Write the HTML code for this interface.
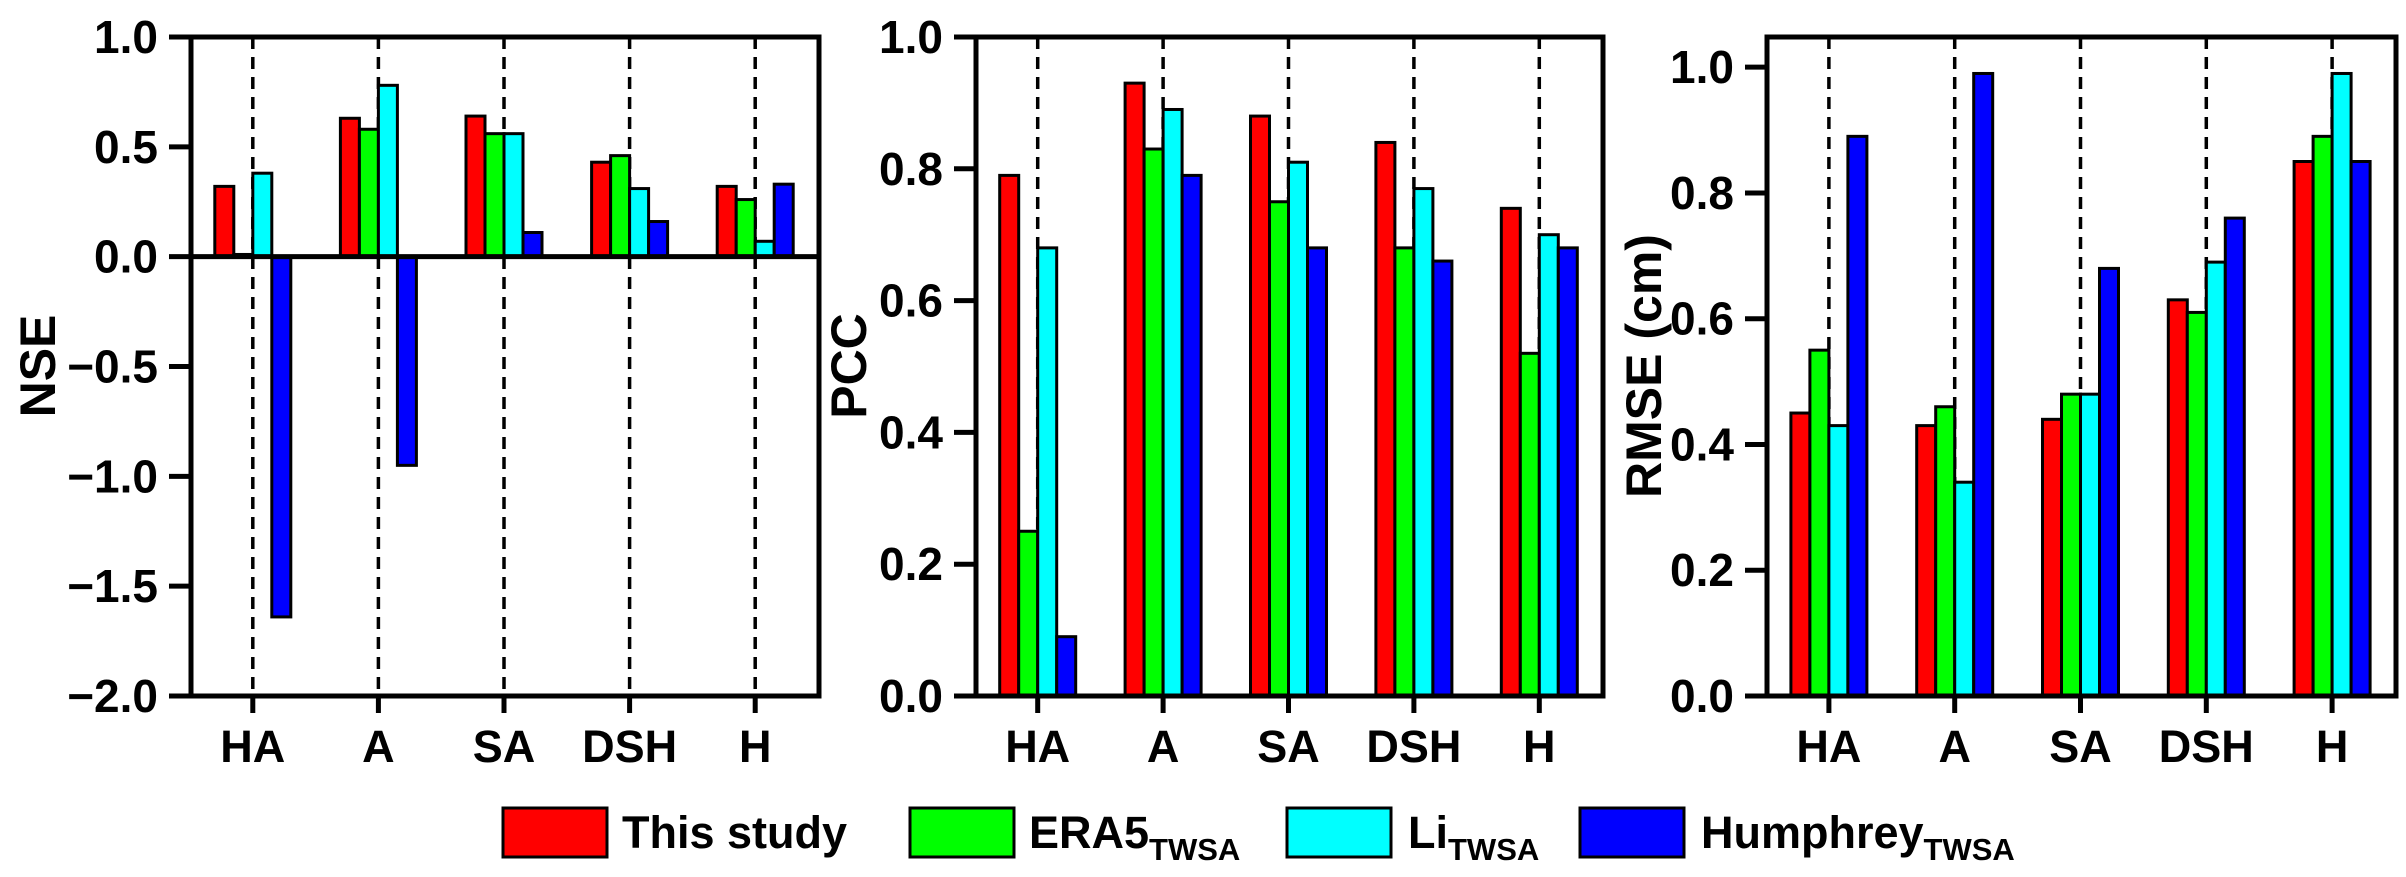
<!DOCTYPE html>
<html><head><meta charset="utf-8"><style>
html,body{margin:0;padding:0;background:#fff;}
svg{display:block;font-family:"Liberation Sans",Arial,sans-serif;font-weight:bold;}
</style></head><body>
<svg id="chart" width="2406" height="877" viewBox="0 0 2406 877" xmlns="http://www.w3.org/2000/svg"></svg>
<script>
const categories = ["HA","A","SA","DSH","H"];
const seriesNames = ["This study","ERA5","Li","Humphrey"];
const colors = ["#ff0000","#00ff00","#00ffff","#0000ff"];
const nseValues = [[0.32,0.63,0.64,0.43,0.32],[0.01,0.58,0.56,0.46,0.26],[0.38,0.78,0.56,0.31,0.07],[-1.64,-0.95,0.11,0.16,0.33]];
const pccValues = [[0.79,0.93,0.88,0.84,0.74],[0.25,0.83,0.75,0.68,0.52],[0.68,0.89,0.81,0.77,0.70],[0.09,0.79,0.68,0.66,0.68]];
const rmseValues = [[0.45,0.43,0.44,0.63,0.85],[0.55,0.46,0.48,0.61,0.89],[0.43,0.34,0.48,0.69,0.99],[0.89,0.99,0.68,0.76,0.85]];
const nseTicks = [1.0,0.5,0.0,-0.5,-1.0,-1.5,-2.0];
const pccTicks = [0.0,0.2,0.4,0.6,0.8,1.0];
const rmseTicks = [0.0,0.2,0.4,0.6,0.8,1.0];

const svgEl = document.getElementById('chart');
const SVGNS = 'http://www.w3.org/2000/svg';
function mk(tag, attrs, parent){const e=document.createElementNS(SVGNS,tag);for(const k in attrs)e.setAttribute(k,attrs[k]);(parent||svgEl).appendChild(e);return e;}
function fmt(v){return (v<0?'\u2212':'')+Math.abs(v).toFixed(1);}

const panels = [
 {name:'nse',left:191,right:819,min:-2,max:1,ticks:nseTicks,vals:nseValues,title:'NSE',tx:37,baseline:0},
 {name:'pcc',left:976,right:1603,min:0,max:1,ticks:pccTicks,vals:pccValues,title:'PCC',tx:848,baseline:0},
 {name:'rmse',left:1767,right:2396,min:0,max:1.048,ticks:rmseTicks,vals:rmseValues,title:'RMSE (cm)',tx:1643,baseline:0}
];
const plotTop=37, plotBottom=696;
panels.forEach(p=>{
  const g=mk('g',{});
  
  
  const y=v=>plotBottom-(v-p.min)/(p.max-p.min)*(plotBottom-plotTop);
  const step=(p.right-p.left)/5;
  const x=i=>p.left+step*(i+0.5)-1;
  categories.forEach((c,i)=>{
    const l=mk('line',{x1:x(i),x2:x(i),y1:plotTop,y2:plotBottom,stroke:'#000','stroke-width':3.5,'stroke-dasharray':'12 8'},g);
    
    
  });
  const bw=19;
  p.vals.forEach((ser,s)=>{
    ser.forEach((v,i)=>{
      const x0=x(i)-2*bw+s*bw;
      const y0=y(Math.max(v,p.baseline)), y1=y(Math.min(v,p.baseline));
      const r=mk('rect',{x:x0,y:y0,width:bw,height:Math.max(0.5,y1-y0),fill:colors[s],stroke:'#000','stroke-width':3},g);
      
      
    });
  });
  if(p.min<0){
    const z=mk('line',{x1:p.left,x2:p.right,y1:y(0),y2:y(0),stroke:'#000','stroke-width':5},g);
    
    
  }
  const fr=mk('rect',{x:p.left,y:plotTop,width:p.right-p.left,height:plotBottom-plotTop,fill:'none',stroke:'#000','stroke-width':5},g);
  
  
  p.ticks.forEach(t=>{
    mk('line',{x1:p.left-22,x2:p.left,y1:y(t),y2:y(t),stroke:'#000','stroke-width':5},g);
    const tx=mk('text',{x:p.left-33,y:y(t)+16,'font-size':46,'text-anchor':'end',fill:'#000'},g);
    tx.textContent=fmt(t);
    
    
  });
  categories.forEach((c,i)=>{
    mk('line',{x1:x(i),x2:x(i),y1:plotBottom,y2:plotBottom+17,stroke:'#000','stroke-width':5},g);
    const tx=mk('text',{x:x(i),y:762,'font-size':45,'text-anchor':'middle',fill:'#000'},g);
    tx.textContent=c;
    
    
  });
  const tt=mk('text',{x:0,y:0,'font-size':50,'text-anchor':'middle',fill:'#000',transform:'translate('+(p.tx+18)+',366) rotate(-90)'},g);
  tt.textContent=p.title;
  
  
});
const legendItems=[{bx:503,tx:622,t:'This study',sub:''},{bx:910,tx:1029,t:'ERA5',sub:'TWSA'},{bx:1287,tx:1408,t:'Li',sub:'TWSA'},{bx:1580,tx:1701,t:'Humphrey',sub:'TWSA'}];
const lg=mk('g',{});


legendItems.forEach((L,i)=>{
  const r=mk('rect',{x:L.bx,y:808,width:104,height:49,fill:colors[i],stroke:'#000','stroke-width':3},lg);
  
  
  const t=mk('text',{x:L.tx,y:848,'font-size':45,fill:'#000'},lg);
  
  
  t.appendChild(document.createTextNode(L.t));
  if(L.sub){const s=mk('tspan',{'font-size':31,dy:12},t);s.textContent=L.sub;}
});
</script>
</body></html>
